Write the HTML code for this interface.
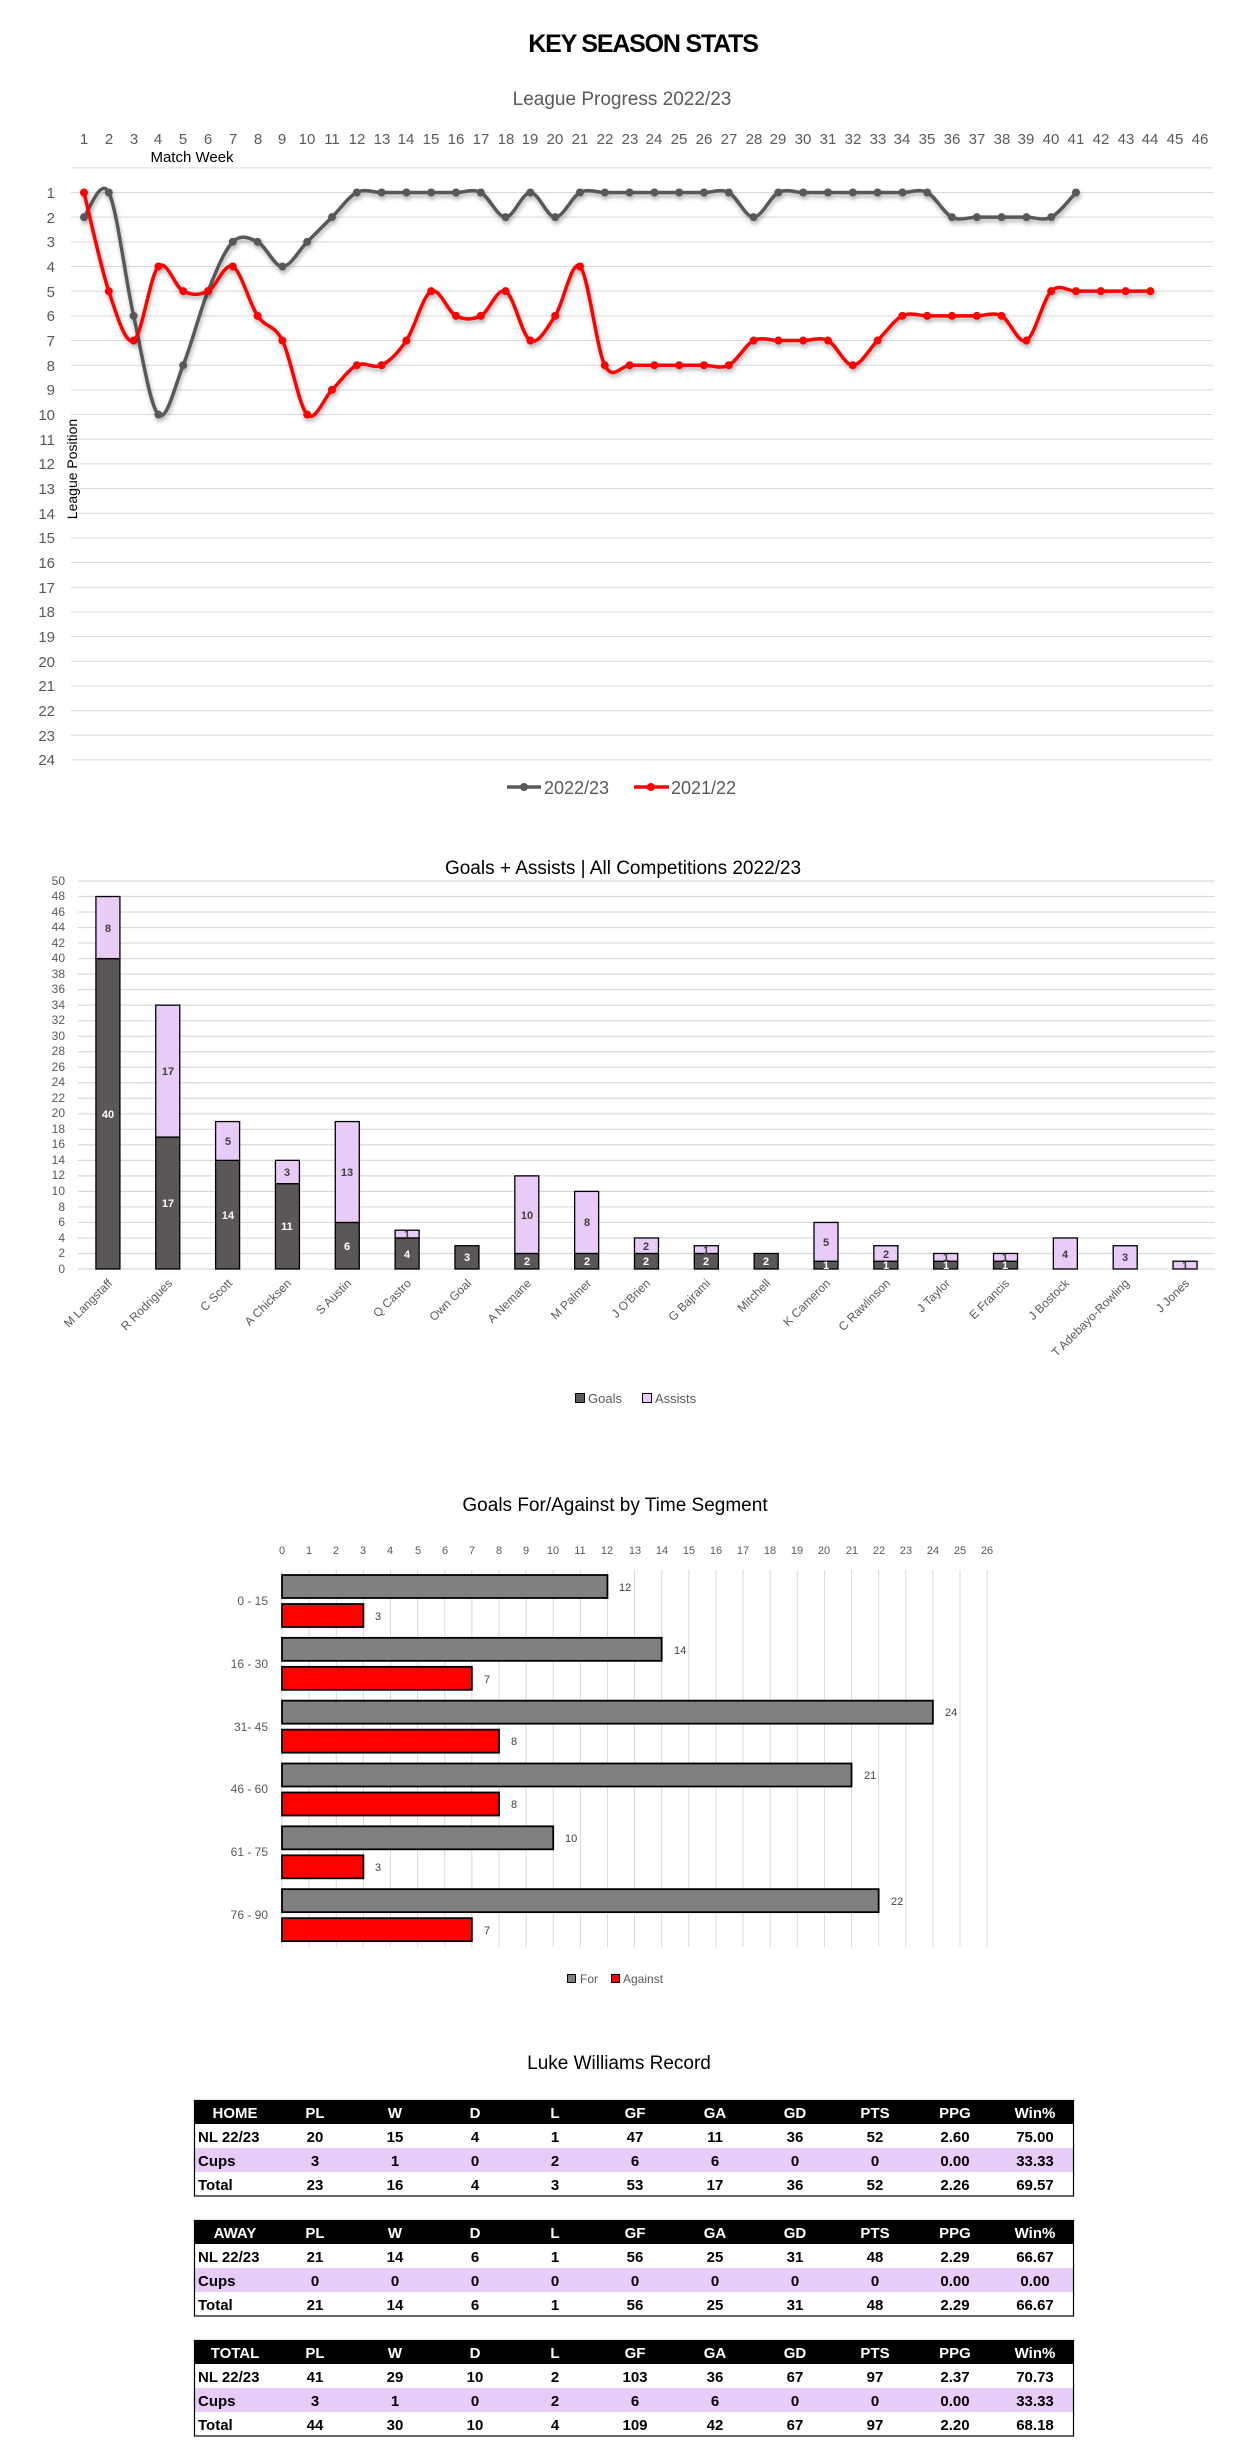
<!DOCTYPE html>
<html><head><meta charset="utf-8"><style>
html,body{margin:0;padding:0;background:#fff}
svg{display:block}
text{font-family:"Liberation Sans",sans-serif}
</style></head><body>
<svg id="s" width="1235" height="2461" viewBox="0 0 1235 2461" xmlns="http://www.w3.org/2000/svg">
<defs>
<filter id="sh" x="-5%" y="-20%" width="110%" height="140%"><feDropShadow dx="1" dy="3" stdDeviation="2" flood-color="#000" flood-opacity="0.3"/></filter>
</defs>
<text x="643" y="52" font-size="25" font-weight="bold" text-anchor="middle" letter-spacing="-1.2" fill="#000">KEY SEASON STATS</text>
<text x="622" y="105" font-size="19" text-anchor="middle" fill="#595959">League Progress 2022/23</text>
<g id="grid1" stroke="#d9d9d9" stroke-width="1"></g>
<g font-size="15" fill="#595959" text-anchor="middle">
<text x="84" y="144">1</text><text x="109" y="144">2</text><text x="134" y="144">3</text><text x="158" y="144">4</text><text x="183" y="144">5</text><text x="208" y="144">6</text><text x="233" y="144">7</text><text x="258" y="144">8</text><text x="282" y="144">9</text><text x="307" y="144">10</text><text x="332" y="144">11</text><text x="357" y="144">12</text><text x="382" y="144">13</text><text x="406" y="144">14</text><text x="431" y="144">15</text><text x="456" y="144">16</text><text x="481" y="144">17</text><text x="506" y="144">18</text><text x="530" y="144">19</text><text x="555" y="144">20</text><text x="580" y="144">21</text><text x="605" y="144">22</text><text x="630" y="144">23</text><text x="654" y="144">24</text><text x="679" y="144">25</text><text x="704" y="144">26</text><text x="729" y="144">27</text><text x="754" y="144">28</text><text x="778" y="144">29</text><text x="803" y="144">30</text><text x="828" y="144">31</text><text x="853" y="144">32</text><text x="878" y="144">33</text><text x="902" y="144">34</text><text x="927" y="144">35</text><text x="952" y="144">36</text><text x="977" y="144">37</text><text x="1002" y="144">38</text><text x="1026" y="144">39</text><text x="1051" y="144">40</text><text x="1076" y="144">41</text><text x="1101" y="144">42</text><text x="1126" y="144">43</text><text x="1150" y="144">44</text><text x="1175" y="144">45</text><text x="1200" y="144">46</text>
</g>
<text x="192" y="162" font-size="15" text-anchor="middle" fill="#000">Match Week</text>
<g font-size="15" fill="#595959" text-anchor="end">
<text x="55" y="198">1</text><text x="55" y="223">2</text><text x="55" y="247">3</text><text x="55" y="272">4</text><text x="55" y="297">5</text><text x="55" y="321">6</text><text x="55" y="346">7</text><text x="55" y="371">8</text><text x="55" y="395">9</text><text x="55" y="420">10</text><text x="55" y="445">11</text><text x="55" y="469">12</text><text x="55" y="494">13</text><text x="55" y="519">14</text><text x="55" y="543">15</text><text x="55" y="568">16</text><text x="55" y="593">17</text><text x="55" y="617">18</text><text x="55" y="642">19</text><text x="55" y="667">20</text><text x="55" y="691">21</text><text x="55" y="716">22</text><text x="55" y="741">23</text><text x="55" y="765">24</text>
</g>
<text transform="translate(77,469) rotate(-90)" font-size="14" text-anchor="middle" fill="#000">League Position</text>
<g id="lines1"></g>
<line x1="507" y1="787" x2="541" y2="787" stroke="#595959" stroke-width="3.5"/><circle cx="524" cy="787" r="4" fill="#595959"/>
<text x="544" y="794" font-size="18" fill="#595959">2022/23</text>
<line x1="634" y1="787" x2="669" y2="787" stroke="#f00" stroke-width="3.5"/><circle cx="651" cy="787" r="4" fill="#f00"/>
<text x="671" y="794" font-size="18" fill="#595959">2021/22</text>

<text x="623" y="874" font-size="19" text-anchor="middle" fill="#000">Goals + Assists | All Competitions  2022/23</text>
<g id="grid2" stroke="#d9d9d9" stroke-width="1.2"></g>
<g font-size="12" fill="#595959" text-anchor="end">
<text x="65" y="885">50</text><text x="65" y="900">48</text><text x="65" y="916">46</text><text x="65" y="931">44</text><text x="65" y="947">42</text><text x="65" y="962">40</text><text x="65" y="978">38</text><text x="65" y="993">36</text><text x="65" y="1009">34</text><text x="65" y="1024">32</text><text x="65" y="1040">30</text><text x="65" y="1055">28</text><text x="65" y="1071">26</text><text x="65" y="1086">24</text><text x="65" y="1102">22</text><text x="65" y="1117">20</text><text x="65" y="1133">18</text><text x="65" y="1148">16</text><text x="65" y="1164">14</text><text x="65" y="1179">12</text><text x="65" y="1195">10</text><text x="65" y="1211">8</text><text x="65" y="1226">6</text><text x="65" y="1242">4</text><text x="65" y="1257">2</text><text x="65" y="1273">0</text>
</g>
<g id="bars2"></g>
<g font-size="11" font-weight="bold" text-anchor="middle">
<g fill="#fff">
<text x="108" y="1118">40</text><text x="168" y="1207">17</text><text x="228" y="1219">14</text><text x="287" y="1230">11</text><text x="347" y="1250">6</text><text x="407" y="1258">4</text><text x="467" y="1261">3</text><text x="527" y="1265">2</text><text x="587" y="1265">2</text><text x="646" y="1265">2</text><text x="706" y="1265">2</text><text x="766" y="1265">2</text><text x="826" y="1269">1</text><text x="886" y="1269">1</text><text x="946" y="1269">1</text><text x="1005" y="1269">1</text>
</g>
<g fill="#404040">
<text x="108" y="932">8</text><text x="168" y="1075">17</text><text x="228" y="1145">5</text><text x="287" y="1176">3</text><text x="347" y="1176">13</text><text x="407" y="1238">1</text><text x="527" y="1219">10</text><text x="587" y="1226">8</text><text x="646" y="1250">2</text><text x="706" y="1254">1</text><text x="826" y="1246">5</text><text x="886" y="1258">2</text><text x="946" y="1261">1</text><text x="1005" y="1261">1</text><text x="1065" y="1258">4</text><text x="1125" y="1261">3</text><text x="1185" y="1269">1</text>
</g>
</g>
<g font-size="12" fill="#595959" text-anchor="end">
<text transform="translate(113,1284) rotate(-45)">M Langstaff</text>
<text transform="translate(173,1284) rotate(-45)">R Rodrigues</text>
<text transform="translate(233,1284) rotate(-45)">C Scott</text>
<text transform="translate(292,1284) rotate(-45)">A Chicksen</text>
<text transform="translate(352,1284) rotate(-45)">S Austin</text>
<text transform="translate(412,1284) rotate(-45)">Q Castro</text>
<text transform="translate(472,1284) rotate(-45)">Own Goal</text>
<text transform="translate(532,1284) rotate(-45)">A Nemane</text>
<text transform="translate(592,1284) rotate(-45)">M Palmer</text>
<text transform="translate(651,1284) rotate(-45)">J O'Brien</text>
<text transform="translate(711,1284) rotate(-45)">G Bajrami</text>
<text transform="translate(771,1284) rotate(-45)">Mitchell</text>
<text transform="translate(831,1284) rotate(-45)">K Cameron</text>
<text transform="translate(891,1284) rotate(-45)">C Rawlinson</text>
<text transform="translate(951,1284) rotate(-45)">J Taylor</text>
<text transform="translate(1010,1284) rotate(-45)">E Francis</text>
<text transform="translate(1070,1284) rotate(-45)">J Bostock</text>
<text transform="translate(1130,1284) rotate(-45)">T Adebayo-Rowling</text>
<text transform="translate(1190,1284) rotate(-45)">J Jones</text>
</g>
<rect x="575.5" y="1393.5" width="9" height="9" fill="#5b5757" stroke="#000"/>
<text x="588" y="1403" font-size="13" fill="#595959">Goals</text>
<rect x="642.5" y="1393.5" width="9" height="9" fill="#e8cbf7" stroke="#000"/>
<text x="655" y="1403" font-size="13" fill="#595959">Assists</text>

<text x="615" y="1511" font-size="19" text-anchor="middle" fill="#000">Goals For/Against by Time Segment</text>
<g id="grid3" stroke="#d9d9d9" stroke-width="1"></g>
<g font-size="11" fill="#595959" text-anchor="middle">
<text x="282" y="1554">0</text><text x="309" y="1554">1</text><text x="336" y="1554">2</text><text x="363" y="1554">3</text><text x="390" y="1554">4</text><text x="418" y="1554">5</text><text x="445" y="1554">6</text><text x="472" y="1554">7</text><text x="499" y="1554">8</text><text x="526" y="1554">9</text><text x="553" y="1554">10</text><text x="580" y="1554">11</text><text x="607" y="1554">12</text><text x="635" y="1554">13</text><text x="662" y="1554">14</text><text x="689" y="1554">15</text><text x="716" y="1554">16</text><text x="743" y="1554">17</text><text x="770" y="1554">18</text><text x="797" y="1554">19</text><text x="824" y="1554">20</text><text x="852" y="1554">21</text><text x="879" y="1554">22</text><text x="906" y="1554">23</text><text x="933" y="1554">24</text><text x="960" y="1554">25</text><text x="987" y="1554">26</text>
</g>
<g id="bars3"></g>
<g font-size="12" fill="#595959" text-anchor="end">
<text x="268" y="1605">0 - 15</text><text x="268" y="1668">16 - 30</text><text x="268" y="1731">31- 45</text><text x="268" y="1793">46 - 60</text><text x="268" y="1856">61 - 75</text><text x="268" y="1919">76 - 90</text>
</g>
<g font-size="11" fill="#404040">
<text x="619" y="1591">12</text><text x="375" y="1620">3</text>
<text x="674" y="1654">14</text><text x="484" y="1683">7</text>
<text x="945" y="1716">24</text><text x="511" y="1745">8</text>
<text x="864" y="1779">21</text><text x="511" y="1808">8</text>
<text x="565" y="1842">10</text><text x="375" y="1871">3</text>
<text x="891" y="1905">22</text><text x="484" y="1934">7</text>
</g>
<rect x="567.5" y="1974.5" width="8" height="8" fill="#808080" stroke="#000"/>
<text x="580" y="1983" font-size="12" fill="#595959">For</text>
<rect x="611.5" y="1974.5" width="8" height="8" fill="#f00" stroke="#000"/>
<text x="623" y="1983" font-size="12" fill="#595959">Against</text>

<text x="619" y="2069" font-size="19" text-anchor="middle" fill="#000">Luke Williams Record</text>
<g id="tables"></g>
</svg>
<script>
var NS="http://www.w3.org/2000/svg";
function el(p,tag,a,txt){var e=document.createElementNS(NS,tag);for(var k in a)e.setAttribute(k,a[k]);if(txt!==undefined)e.textContent=txt;p.appendChild(e);return e;}
var g1=document.getElementById('grid1');
for(var p=0;p<=24;p++){var y=192.5+(p-1)*24.67;el(g1,'line',{x1:71,x2:1213,y1:y,y2:y});}
function X1(w){return 84+(w-1)*24.8;}function Y1(p){return 192.5+(p-1)*24.67;}
function smooth(pts){var d='M'+pts[0][0]+','+pts[0][1];var t=1/6;
for(var i=0;i<pts.length-1;i++){var p0=pts[i-1]||pts[i],p1=pts[i],p2=pts[i+1],p3=pts[i+2]||p2;
d+=' C'+(p1[0]+(p2[0]-p0[0])*t)+','+(p1[1]+(p2[1]-p0[1])*t)+' '+(p2[0]-(p3[0]-p1[0])*t)+','+(p2[1]-(p3[1]-p1[1])*t)+' '+p2[0]+','+p2[1];}
return d;}
var gray=[2,1,6,10,8,5,3,3,4,3,2,1,1,1,1,1,1,2,1,2,1,1,1,1,1,1,1,2,1,1,1,1,1,1,1,2,2,2,2,2,1];
var red=[1,5,7,4,5,5,4,6,7,10,9,8,8,7,5,6,6,5,7,6,4,8,8,8,8,8,8,7,7,7,7,8,7,6,6,6,6,6,7,5,5,5,5,5];
var L=document.getElementById('lines1');
[[gray,'#595959'],[red,'#ff0000']].forEach(function(s){
var pts=s[0].map(function(v,i){return [X1(i+1),Y1(v)];});
var g=el(L,'g',{filter:'url(#sh)'});
el(g,'path',{d:smooth(pts),fill:'none',stroke:s[1],'stroke-width':3.5,'stroke-linejoin':'round'});
pts.forEach(function(q){el(g,'circle',{cx:q[0],cy:q[1],r:4,fill:s[1]});});
});
var g2=document.getElementById('grid2');
for(var v=0;v<=50;v+=2){var y=1269-v*7.76;el(g2,'line',{x1:78,x2:1215,y1:y,y2:y});}
var G=[40,17,14,11,6,4,3,2,2,2,2,2,1,1,1,1,0,0,0],A=[8,17,5,3,13,1,0,10,8,2,1,0,5,2,1,1,4,3,1];
var B=document.getElementById('bars2');
for(var i=0;i<19;i++){var cx=78+59.84*(i+0.5);
if(G[i])el(B,'rect',{x:cx-12,y:1269-G[i]*7.76,width:24,height:G[i]*7.76,fill:'#5b5757',stroke:'#000','stroke-width':1.3});
if(A[i])el(B,'rect',{x:cx-12,y:1269-(G[i]+A[i])*7.76,width:24,height:A[i]*7.76,fill:'#e8cbf7',stroke:'#000','stroke-width':1.3});}
var g3=document.getElementById('grid3');
for(var v=0;v<=26;v++){var x=282+v*27.12;el(g3,'line',{x1:x,x2:x,y1:1570,y2:1947});}
var F=[12,14,24,21,10,22],Ag=[3,7,8,8,3,7];var B3=document.getElementById('bars3');
for(var i=0;i<6;i++){var ty=1570+62.83*i;
el(B3,'rect',{x:282,y:ty+5,width:F[i]*27.12,height:23,fill:'#808080',stroke:'#000','stroke-width':1.8});
el(B3,'rect',{x:282,y:ty+34,width:Ag[i]*27.12,height:23,fill:'#ff0000',stroke:'#000','stroke-width':1.8});}
var T=document.getElementById('tables');
var data=[['HOME',[['NL 22/23',20,15,4,1,47,11,36,52,'2.60','75.00'],['Cups',3,1,0,2,6,6,0,0,'0.00','33.33'],['Total',23,16,4,3,53,17,36,52,'2.26','69.57']]],
['AWAY',[['NL 22/23',21,14,6,1,56,25,31,48,'2.29','66.67'],['Cups',0,0,0,0,0,0,0,0,'0.00','0.00'],['Total',21,14,6,1,56,25,31,48,'2.29','66.67']]],
['TOTAL',[['NL 22/23',41,29,10,2,103,36,67,97,'2.37','70.73'],['Cups',3,1,0,2,6,6,0,0,'0.00','33.33'],['Total',44,30,10,4,109,42,67,97,'2.20','68.18']]]];
var hdr=['PL','W','D','L','GF','GA','GD','PTS','PPG','Win%'];
data.forEach(function(t,k){var y0=2100+120*k;
el(T,'rect',{x:194,y:y0,width:880,height:24,fill:'#000'});
el(T,'rect',{x:194,y:y0+48,width:880,height:24,fill:'#e8ccf8'});
el(T,'rect',{x:194.5,y:y0+0.5,width:879,height:95.5,fill:'none',stroke:'#000','stroke-width':1.2});
el(T,'text',{x:235,y:y0+18,'font-size':15,'font-weight':'bold',fill:'#fff','text-anchor':'middle'},t[0]);
hdr.forEach(function(h,j){el(T,'text',{x:315+80*j,y:y0+18,'font-size':15,'font-weight':'bold',fill:'#fff','text-anchor':'middle'},h);});
t[1].forEach(function(r,ri){var yy=y0+24*(ri+1)+18;
el(T,'text',{x:198,y:yy,'font-size':15,'font-weight':'bold',fill:'#000'},r[0]);
for(var j=1;j<r.length;j++)el(T,'text',{x:315+80*(j-1),y:yy,'font-size':15,'font-weight':'bold',fill:'#000','text-anchor':'middle'},String(r[j]));});
});
</script>
</body></html>
